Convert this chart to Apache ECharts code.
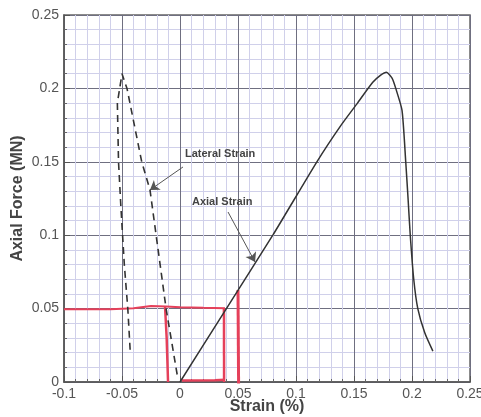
<!DOCTYPE html>
<html>
<head>
    <meta charset="UTF-8">
    <script src="https://cdn.jsdelivr.net/npm/echarts@6/dist/echarts.min.js"></script>
    <title>Axial Force vs Strain</title>
</head>
<body style="margin:0;background:#fff;">
<div id="chart" style="width:481px;height:417px;"></div>
<script>
    // axial strain curve (strain %, force MN)
    var axialX = [0, 0.04, 0.08, 0.118, 0.138, 0.153, 0.166, 0.173, 0.178, 0.1828, 0.186, 0.1914, 0.1946, 0.1966, 0.1985, 0.2015, 0.205, 0.211, 0.218];
    var axialY = [0, 0.05, 0.1, 0.15, 0.174, 0.19, 0.204, 0.209, 0.211, 0.207, 0.2, 0.185, 0.15, 0.125, 0.1, 0.07, 0.05, 0.0335, 0.021];
    // lateral strain curve (dashed)
    var lateralX = [-0.043, -0.045, -0.048, -0.051, -0.053, -0.054, -0.05, -0.0457, -0.033, -0.0259, -0.012, -0.002];
    var lateralY = [0.022, 0.05, 0.08, 0.12, 0.15, 0.19, 0.21, 0.2, 0.15, 0.131, 0.05, 0.003];
    // red hand drawn marks
    var redHX = [-0.1, -0.06, -0.04, -0.025, -0.012, 0, 0.02, 0.0388];
    var redHY = [0.0495, 0.0495, 0.0502, 0.0518, 0.0515, 0.051, 0.0505, 0.0502];
    var redLeftX = [-0.0129, -0.0115, -0.0103];
    var redLeftY = [0.0515, 0.03, 0.0];
    var redBottomX = [0.0017, 0.03, 0.0388];
    var redBottomY = [0.001, 0.0012, 0.0015];
    var redMidX = [0.0379, 0.038];
    var redMidY = [0.0502, 0.0];
    var redRightX = [0.05, 0.0505];
    var redRightY = [0.0627, -0.001];

    function pairs(xs, ys) {
        return xs.map(function (x, i) { return [x, ys[i]]; });
    }

    var red = '#e5405a';
    var font = 'Liberation Sans, Arial, sans-serif';

    function redSeries(xs, ys, w) {
        return {
            type: 'line', data: pairs(xs, ys), symbol: 'none', clip: false,
            lineStyle: {color: red, width: w}, silent: true, z: 4
        };
    }

    var axisCommon = {
        type: 'value',
        interval: 0.05,
        axisLine: {show: true, onZero: false, lineStyle: {color: '#555', width: 1.5}},
        axisTick: {show: true, inside: true, length: 6, lineStyle: {color: '#555'}},
        minorTick: {show: true, splitNumber: 5, length: 3, lineStyle: {color: '#666'}},
        splitLine: {show: true, lineStyle: {color: '#6f6f80', width: 1}},
        minorSplitLine: {show: true, lineStyle: {color: '#d0d0ea', width: 1}},
        axisLabel: {color: '#555', fontSize: 14, fontFamily: font, margin: 5},
        nameLocation: 'middle',
        nameMoveOverlap: false,
        nameTextStyle: {color: '#444', fontSize: 16, fontWeight: 'bold', fontFamily: font}
    };

    var chart = echarts.init(document.getElementById('chart'));
    chart.setOption({
        animation: false,
        grid: {left: 64, right: 11, top: 15, bottom: 35, outerBoundsMode: 'none', containLabel: false,
            show: true, borderColor: '#666', borderWidth: 1.5},
        xAxis: Object.assign({}, axisCommon, {min: -0.1, max: 0.25, name: 'Strain (%)', nameGap: 17}),
        yAxis: Object.assign({}, axisCommon, {min: 0, max: 0.25, name: 'Axial Force (MN)', nameGap: 38}),
        series: [
            {
                name: 'Axial Strain', type: 'line', data: pairs(axialX, axialY), symbol: 'none', smooth: 0.2,
                lineStyle: {color: '#333', width: 1.5}, z: 5
            },
            {
                name: 'Lateral Strain', type: 'line', data: pairs(lateralX, lateralY), symbol: 'none',
                lineStyle: {color: '#333', width: 1.6, type: [7, 5]}, z: 5,
                markLine: {
                    silent: true, symbol: ['none', 'arrow'], symbolSize: 9,
                    label: {show: false},
                    lineStyle: {color: '#555', width: 1, type: 'solid'},
                    data: [
                        [{coord: [0.0026, 0.1465]}, {coord: [-0.0259, 0.1308]}],
                        [{coord: [0.0414, 0.1158]}, {coord: [0.0647, 0.0817]}]
                    ]
                },
                markPoint: {
                    silent: true, symbol: 'circle', symbolSize: 0,
                    label: {show: true, position: 'right', distance: 0, formatter: '{b}', color: '#444',
                        fontSize: 11, fontWeight: 'bold', fontFamily: font},
                    data: [
                        {name: 'Lateral Strain', coord: [0.0043, 0.1553]},
                        {name: 'Axial Strain', coord: [0.0103, 0.1226]}
                    ]
                }
            },
            redSeries(redHX, redHY, 2),
            redSeries(redLeftX, redLeftY, 2.5),
            redSeries(redBottomX, redBottomY, 2.5),
            redSeries(redMidX, redMidY, 2.5),
            redSeries(redRightX, redRightY, 3)
        ]
    });
</script>
</body>
</html>
